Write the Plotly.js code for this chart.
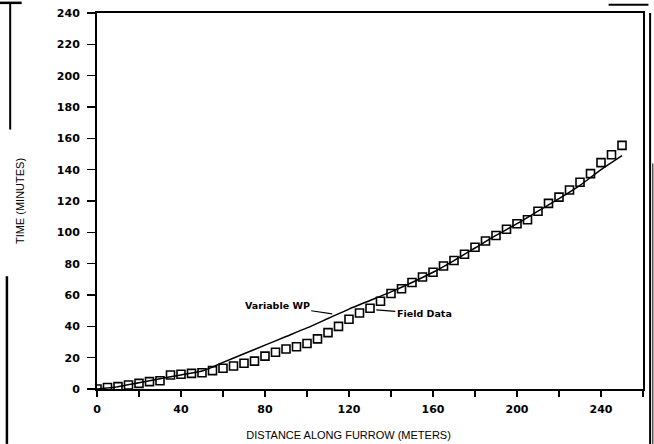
<!DOCTYPE html>
<html>
<head>
<meta charset="utf-8">
<script src="https://cdn.plot.ly/plotly-3.0.1.min.js"></script>
<style>html,body{margin:0;padding:0;background:#fff;}#chart{width:654px;height:444px;}</style>
</head>
<body>
<div id="chart"></div>
<script>
// Field data (squares)
const fieldDistance = [0,5,10,15,20,25,30,35,40,45,50,55,60,65,70,75,80,85,90,95,100,105,110,115,120,125,130,135,140,145,150,155,160,165,170,175,180,185,190,195,200,205,210,215,220,225,230,235,240,245,250];
const fieldTime = [0,1.0,1.5,2.6,3.6,4.7,5.3,8.9,9.4,10,10.4,11.7,13.2,14.7,16.4,17.8,21,23.5,25.5,27,29,32,36,40,44.5,48.5,51.5,56,61,64,68,71.5,74.5,78.5,82,86,90.5,94.5,98,102,105.5,108,113.5,118.5,122.5,127,132,137.5,144.5,149.5,155.5];
// Variable WP model (line)
const modelDistance = [0,10,20,30,40,50,55,60,70,80,90,100,110,120,130,140,150,160,170,180,190,200,210,220,230,240,250];
const modelTime = [0,1.5,4,6.5,9,11.5,14,17,22.5,28,33.5,39,45,51,56.5,62,68,74.5,82,90,98,105.5,113.5,121.5,130,140,149];
const xTickVals = [0,40,80,120,160,200,240];
const yTickVals = [0,20,40,60,80,100,120,140,160,180,200,220,240];

const font = "DejaVu Sans, Arial, sans-serif";
const traces = [
  {x: modelDistance, y: modelTime, mode: 'lines', name: 'Variable WP',
   line: {color: '#000', width: 1.5, shape: 'spline', smoothing: 0.6}, hoverinfo: 'skip'},
  {x: fieldDistance, y: fieldTime, mode: 'markers', name: 'Field Data',
   marker: {symbol: 'square-open', size: 8, color: '#000', line: {width: 1.6, color: '#000'}}}
];
function vline(x, y0, y1, w){return {type:'line', xref:'paper', yref:'paper', x0:x, x1:x, y0:y0, y1:y1, line:{color:'#000', width:w||2}};}
function hline(y, x0, x1, w){return {type:'line', xref:'paper', yref:'paper', x0:x0, x1:x1, y0:y, y1:y, line:{color:'#000', width:w||2}};}
const pad = '&nbsp;'.repeat(14);
const layout = {
  width: 654, height: 444,
  margin: {l: 97, r: 11, t: 13, b: 55},
  paper_bgcolor: '#fff', plot_bgcolor: '#fff',
  showlegend: false,
  font: {family: font, color: '#000', size: 11},
  xaxis: {
    range: [0, 260], tickvals: xTickVals, ticks: 'outside', ticklen: 6, tickwidth: 1.5, tickcolor: '#000',
    minor: {dtick: 20, ticks: 'outside', ticklen: 6, tickwidth: 1.5, tickcolor: '#000'},
    showline: true, linecolor: '#000', linewidth: 2, mirror: true, showgrid: false, zeroline: false,
    tickfont: {family: font, size: 11, color: '#000', weight: 'bold'}, ticklabelstandoff: 3,
    title: {text: 'DISTANCE ALONG FURROW (METERS)' + pad, font: {family: "Liberation Sans, Arial, sans-serif", size: 11, color: '#000'}, standoff: 16}
  },
  yaxis: {
    range: [0, 240], tickvals: yTickVals, ticks: 'outside', ticklen: 8, tickwidth: 1.5, tickcolor: '#000',
    showline: true, linecolor: '#000', linewidth: 2, mirror: true, showgrid: false, zeroline: false,
    tickfont: {family: font, size: 11, color: '#000', weight: 'bold'}, ticklabelstandoff: 5,
    title: {text: 'TIME (MINUTES)', font: {family: "Liberation Sans, Arial, sans-serif", size: 11, color: '#000'}, standoff: 30}
  },
  annotations: [
    {x: 112, y: 48, xref: 'x', yref: 'y', text: '<b>Variable WP</b>', showarrow: true, arrowhead: 0,
     arrowwidth: 1.2, arrowcolor: '#000', ax: -55, ay: -8, font: {family: font, size: 9.5, color: '#000'}},
    {x: 133, y: 50.5, xref: 'x', yref: 'y', text: '<b>Field Data</b>', showarrow: true, arrowhead: 0,
     arrowwidth: 1.2, arrowcolor: '#000', ax: 48, ay: 4, font: {family: font, size: 9.5, color: '#000'}}
  ],
  shapes: [
    hline(1.027, -0.178, -0.138, 2.5),
    vline(-0.159, 1.027, 0.69, 2),
    vline(-0.165, 0.30, -0.146, 2.5),
    hline(1.022, 0.937, 1.01, 2),
    vline(1.013, 1.0, -0.146, 2),
    vline(1.018, 0.6, -0.146, 1)
  ]
};
Plotly.newPlot('chart', traces, layout, {staticPlot: true, displayModeBar: false});
</script>
</body>
</html>
